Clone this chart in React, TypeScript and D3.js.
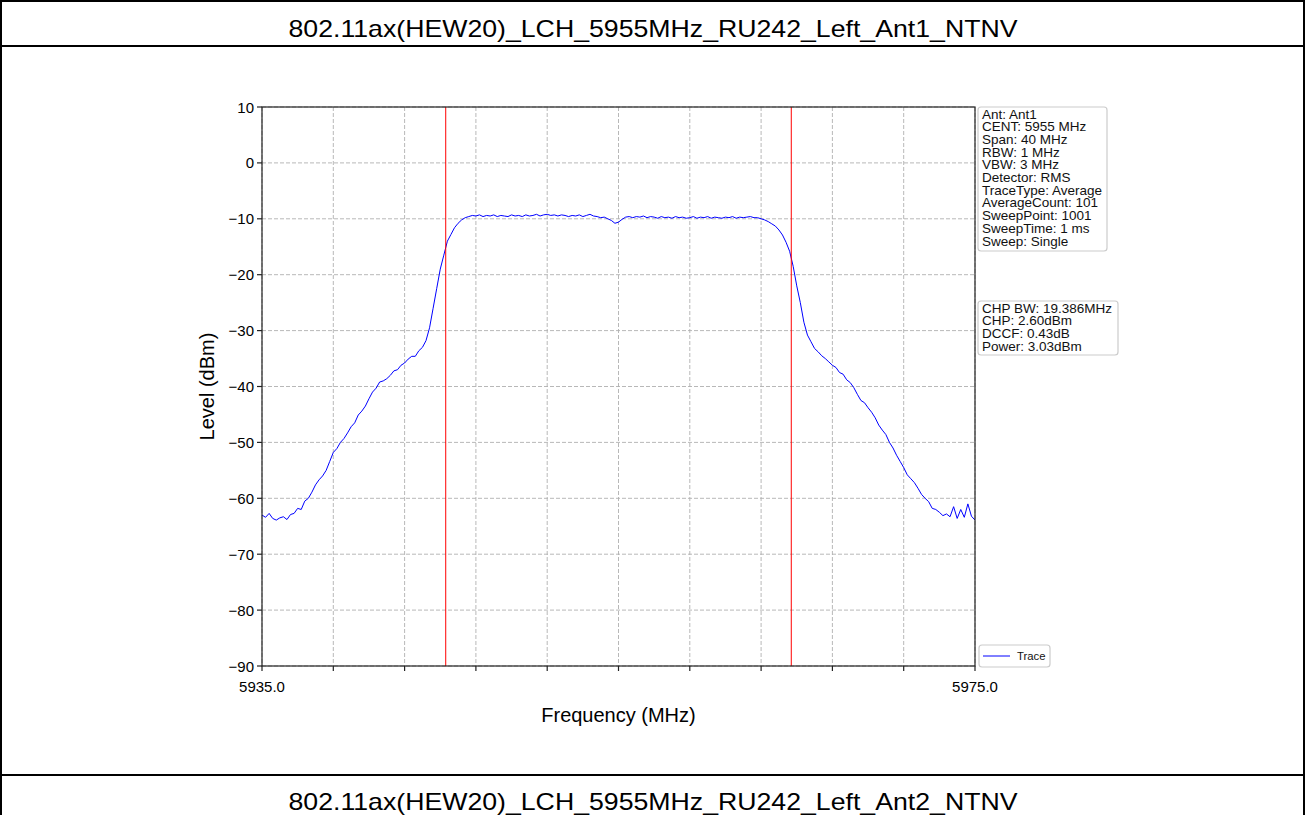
import React from "react";
import * as d3 from "d3";

const title1 = "802.11ax(HEW20)_LCH_5955MHz_RU242_Left_Ant1_NTNV";
const title2 = "802.11ax(HEW20)_LCH_5955MHz_RU242_Left_Ant2_NTNV";

const freqStart = 5935.0;
const freqStep = 0.2;
const traceLevels = [
  -63.0, -63.4, -62.7, -63.6, -63.9, -63.5, -63.3, -63.8, -62.9, -62.7,
  -61.8, -62.0, -60.5, -60.0, -58.9, -57.6, -56.7, -56.0, -55.0, -53.4,
  -51.8, -51.1, -50.0, -49.3, -48.3, -47.2, -46.5, -45.1, -44.4, -43.5,
  -42.2, -41.0, -40.3, -39.2, -39.0, -38.6, -38.0, -37.2, -37.0, -36.2,
  -35.8, -35.1, -34.6, -34.6, -33.6, -33.0, -31.8, -29.5, -26.0, -22.5,
  -19.0, -16.5, -14.0, -12.8, -11.6, -10.8, -10.2, -9.8, -9.6, -9.4,
  -9.5, -9.3, -9.6, -9.4, -9.5, -9.3, -9.6, -9.4, -9.5, -9.6,
  -9.3, -9.5, -9.4, -9.6, -9.3, -9.5, -9.4, -9.2, -9.5, -9.3,
  -9.2, -9.4, -9.3, -9.5, -9.3, -9.4, -9.6, -9.4, -9.5, -9.3,
  -9.6, -9.4, -9.2, -9.5, -9.6, -9.8, -9.7, -10.0, -10.3, -10.8,
  -10.6, -10.1, -9.7, -9.6, -9.8, -9.6, -9.7, -9.5, -9.8, -9.6,
  -9.7, -9.9, -9.6, -9.8, -9.7, -9.9, -9.6, -9.8, -9.7, -9.9,
  -9.8, -9.6, -9.9, -9.7, -9.8, -9.6, -9.9, -9.7, -9.8, -9.9,
  -9.7, -9.8, -9.6, -9.9, -9.7, -9.8, -9.7, -9.6, -9.8, -9.8,
  -10.0, -10.2, -10.5, -10.9, -11.3, -12.0, -12.9, -14.2, -15.8, -18.5,
  -22.0, -25.0, -28.5, -30.8, -32.0, -33.2, -33.8, -34.5, -35.0, -35.6,
  -36.2, -36.6, -37.5, -37.8, -38.8, -39.3, -40.2, -41.4, -42.5, -42.9,
  -43.8, -44.6, -45.6, -46.9, -47.8, -48.6, -50.0, -51.0, -52.3, -53.4,
  -54.5, -55.8, -56.5, -57.2, -58.2, -59.3, -60.0, -60.6, -61.8, -62.0,
  -62.5, -63.1, -62.8, -63.3, -61.5, -63.6, -62.0, -63.4, -61.0, -63.2,
  -63.9,
];

const xDomain = [5935, 5975];
const yDomain = [-90, 10];
const yTicks = [10, 0, -10, -20, -30, -40, -50, -60, -70, -80, -90];
const xGridTicks = [5935, 5939, 5943, 5947, 5951, 5955, 5959, 5963, 5967, 5971, 5975];
const xTickLabels = [
  { f: 5935, label: "5935.0" },
  { f: 5975, label: "5975.0" },
];
const markerFreqs = [5945.307, 5964.693];

const infoLines = [
  "Ant: Ant1",
  "CENT: 5955 MHz",
  "Span: 40 MHz",
  "RBW: 1 MHz",
  "VBW: 3 MHz",
  "Detector: RMS",
  "TraceType: Average",
  "AverageCount: 101",
  "SweepPoint: 1001",
  "SweepTime: 1 ms",
  "Sweep: Single",
];
const resultLines = [
  "CHP BW: 19.386MHz",
  "CHP: 2.60dBm",
  "DCCF: 0.43dB",
  "Power: 3.03dBm",
];

const FONT = "'Liberation Sans', Arial, Helvetica, sans-serif";

export default function App() {
  const W = 1306;
  const H = 815;
  const left = 262, right = 975, top = 107, bottom = 666;
  const x = d3.scaleLinear().domain(xDomain).range([left, right]);
  const y = d3.scaleLinear().domain(yDomain).range([bottom, top]);
  const pts: [number, number][] = traceLevels.map((v, i) => [freqStart + i * freqStep, v]);
  const line = d3
    .line<[number, number]>()
    .x((d) => x(d[0]))
    .y((d) => y(d[1]));

  const lh = 12.7;

  return (
    <svg
      width={W}
      height={H}
      style={{ position: "absolute", left: 0, top: 0, background: "#fff" }}
      fontFamily={FONT}
    >
      <rect x={0} y={0} width={W} height={H} fill="#fff" />
      {/* table borders */}
      <rect x={1} y={1} width={W - 3} height={H + 10} fill="none" stroke="#000" strokeWidth={2} />
      <line x1={1} x2={W - 2} y1={46} y2={46} stroke="#000" strokeWidth={2} />
      <line x1={1} x2={W - 2} y1={775} y2={775} stroke="#000" strokeWidth={2} />
      <text
        x={W / 2}
        y={28}
        textAnchor="middle"
        dominantBaseline="central"
        fontSize={24}
        fontFamily="'Liberation Sans Narrow', 'Liberation Sans', Arial, sans-serif"
        textLength={729}
        lengthAdjust="spacingAndGlyphs"
      >
        {title1}
      </text>
      <text
        x={W / 2}
        y={801}
        textAnchor="middle"
        dominantBaseline="central"
        fontSize={24}
        fontFamily="'Liberation Sans Narrow', 'Liberation Sans', Arial, sans-serif"
        textLength={729}
        lengthAdjust="spacingAndGlyphs"
      >
        {title2}
      </text>

      {/* grid */}
      <g stroke="#b0b0b0" strokeWidth={0.9} strokeDasharray="4,2">
        {yTicks.map((t) => (
          <line key={"gy" + t} x1={left} x2={right} y1={y(t)} y2={y(t)} />
        ))}
        {xGridTicks.map((t) => (
          <line key={"gx" + t} x1={x(t)} x2={x(t)} y1={top} y2={bottom} />
        ))}
      </g>

      {/* trace */}
      <path d={line(pts) || ""} fill="none" stroke="#0000ff" strokeWidth={1} />

      {/* markers */}
      {markerFreqs.map((f) => (
        <line key={"m" + f} x1={x(f)} x2={x(f)} y1={top} y2={bottom} stroke="#ff0000" strokeWidth={1} />
      ))}

      {/* spines */}
      <rect x={left} y={top} width={right - left} height={bottom - top} fill="none" stroke="#222" strokeWidth={1.2} />

      {/* y ticks */}
      {yTicks.map((t) => (
        <g key={"yt" + t}>
          <line x1={left - 5} x2={left} y1={y(t)} y2={y(t)} stroke="#222" strokeWidth={1.2} />
          <text x={left - 8} y={y(t)} textAnchor="end" dominantBaseline="central" fontSize={15}>
            {t < 0 ? "\u2212" + Math.abs(t) : String(t)}
          </text>
        </g>
      ))}
      {/* x ticks */}
      {xGridTicks.map((t) => (
        <line key={"xt" + t} x1={x(t)} x2={x(t)} y1={bottom} y2={bottom + 5} stroke="#222" strokeWidth={1.2} />
      ))}
      {xTickLabels.map((t) => (
        <text key={"xl" + t.f} x={x(t.f)} y={686} textAnchor="middle" dominantBaseline="central" fontSize={15}>
          {t.label}
        </text>
      ))}

      {/* axis labels */}
      <text x={(left + right) / 2} y={715} textAnchor="middle" dominantBaseline="central" fontSize={20}>
        Frequency (MHz)
      </text>
      <text
        transform={`translate(207, ${(top + bottom) / 2}) rotate(-90)`}
        textAnchor="middle"
        dominantBaseline="central"
        fontSize={20}
      >
        Level (dBm)
      </text>

      {/* info box */}
      <rect x={978} y={107} width={129} height={144} rx={3} fill="#fff" stroke="#cccccc" strokeWidth={1.2} />
      {infoLines.map((s, i) => (
        <text key={"i" + i} x={982} y={114 + i * lh} dominantBaseline="central" fontSize={13.5} fill="#111">
          {s}
        </text>
      ))}
      <rect x={978} y={301} width={140} height={54} rx={3} fill="#fff" stroke="#cccccc" strokeWidth={1.2} />
      {resultLines.map((s, i) => (
        <text key={"r" + i} x={982} y={308 + i * lh} dominantBaseline="central" fontSize={13.5} fill="#111">
          {s}
        </text>
      ))}

      {/* legend */}
      <rect x={979} y={645} width={71} height={22} rx={3} fill="#fff" stroke="#cccccc" strokeWidth={1.2} />
      <line x1={983} x2={1010} y1={656} y2={656} stroke="#0000ff" strokeWidth={1} />
      <text x={1017} y={656} dominantBaseline="central" fontSize={11.3} fill="#111">
        Trace
      </text>
    </svg>
  );
}
